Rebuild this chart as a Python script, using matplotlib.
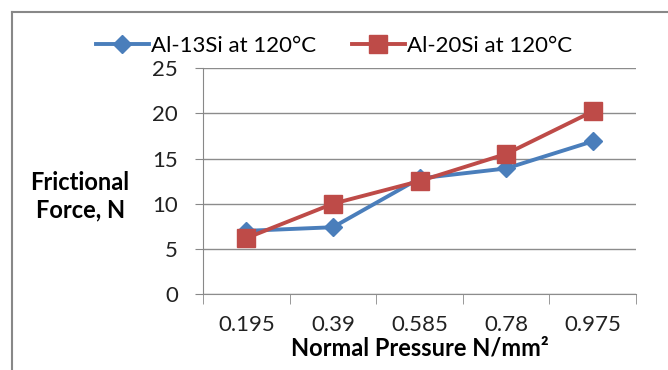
import matplotlib.pyplot as plt
from matplotlib.lines import Line2D

# Normal pressure categories (N/mm²) and measured frictional force (N)
pressure = ["0.195", "0.39", "0.585", "0.78", "0.975"]
al13si = [7.0, 7.4, 12.8, 13.9, 16.9]
al20si = [6.2, 10.0, 12.5, 15.5, 20.2]
y_ticks = [0, 5, 10, 15, 20, 25]

plt.rcParams['font.family'] = ['Lato', 'DejaVu Sans']

fig = plt.figure(figsize=(6.68, 3.70), dpi=100)
ax = fig.add_axes([0.304, 0.205, 0.648, 0.611])

x = list(range(len(pressure)))
l1, = ax.plot(x, al13si, color='#4A7EBB', lw=2.8, marker='D', ms=9.5,
              label='Al-13Si at 120°C', zorder=3)
l2, = ax.plot(x, al20si, color='#BE4B48', lw=2.8, marker='s', ms=13,
              label='Al-20Si at 120°C', zorder=4)

ax.set_xlim(-0.5, len(pressure) - 0.5)
ax.set_ylim(0, 25)
ax.set_yticks(y_ticks)
ax.set_yticklabels([str(v) for v in y_ticks], fontsize=16, color='#222222')
ax.set_xticks(x)
ax.set_xticklabels(pressure, fontsize=16, color='#222222')
ax.set_xticks([i - 0.5 for i in range(len(pressure) + 1)], minor=True)

ax.tick_params(axis='x', which='major', length=0, pad=15)
ax.tick_params(axis='x', which='minor', length=7, color='#888888', direction='out')
ax.tick_params(axis='y', length=6, color='#888888', pad=12)

ax.grid(axis='y', color='#8c8c8c', lw=1.0)
ax.set_axisbelow(True)
for side in ['top', 'right']:
    ax.spines[side].set_visible(False)
ax.spines['left'].set_color('#888888')
ax.spines['bottom'].set_color('#8c8c8c')

ax.set_xlabel('Normal Pressure N/mm²', fontsize=17, fontweight='bold', labelpad=1)
fig.text(0.12, 0.47, 'Frictional\nForce, N', ha='center', va='center',
         fontsize=17, fontweight='bold', linespacing=1.25)

fig.legend(handles=[l1, l2], loc='center', bbox_to_anchor=(0.5, 0.876), ncol=2,
           frameon=False, fontsize=16, handlelength=2.4, columnspacing=1.6,
           handletextpad=0.1, borderpad=0.2)

# outer chart border on the left and top edges
fig.add_artist(Line2D([0.018, 0.018], [0.0, 0.968], color='#888888', lw=1.5))
fig.add_artist(Line2D([0.018, 1.0], [0.968, 0.968], color='#888888', lw=1.5))

fig.savefig('out.png', dpi=100)
